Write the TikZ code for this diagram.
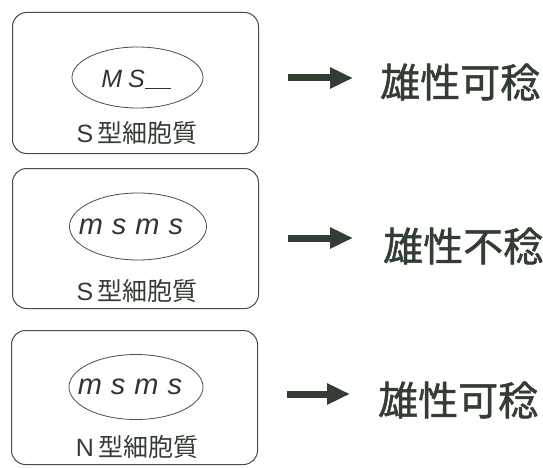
\documentclass[tikz,border=0pt]{standalone}
\usepackage{fontspec}
\setmainfont{Liberation Sans}
\newfontfamily\cjk[FakeBold=1.2]{Noto Sans CJK JP}
\newfontfamily\cjklabel{Noto Sans CJK JP}
\usetikzlibrary{shapes.geometric,arrows.meta}
\definecolor{ink}{HTML}{333D33}
\definecolor{boxline}{HTML}{4A4A4A}
\tikzset{
  cellbox/.style={draw=boxline, line width=1pt, rounded corners=14pt, minimum width=246pt, anchor=north west},
  nucleus/.style={draw=boxline, line width=0.8pt, ellipse, inner sep=0pt},
  gene/.style={font=\fontsize{29}{29}\selectfont\itshape, text=ink!90!black, inner sep=0pt},
  celllabel/.style={font=\fontsize{25}{25}\selectfont, text=ink},
  result/.style={font=\cjk\fontsize{40}{40}\selectfont, text=ink, anchor=west, inner sep=0pt},
  bigarrow/.style={draw=ink, line width=7pt, -{Triangle[length=23pt,width=20pt]}}
}
\begin{document}
\begin{tikzpicture}[x=1pt,y=-1pt]
\useasboundingbox (0,0) rectangle (543,468);
% boxes
\node[cellbox, minimum height=141pt] (b1) at (12,12) {};
\node[cellbox, minimum height=140pt] (b2) at (12,168) {};
\node[cellbox, minimum height=134pt] (b3) at (11,330) {};
% nuclei
\node[nucleus, minimum width=131pt, minimum height=61pt] (e1) at (137.5,77.5) {};
\node[nucleus, minimum width=137pt, minimum height=67pt] (e2) at (138,226.5) {};
\node[nucleus, minimum width=134pt, minimum height=65pt] (e3) at (136,387) {};
\node[gene, font=\fontsize{25}{25}\selectfont\itshape] (g1) at (136,79) {M\hspace{6pt}S\rule[-1pt]{26pt}{0.6pt}};
\node[gene] (g2) at (131,227) {m\hspace{9pt}s\hspace{9pt}m\hspace{9pt}s};
\node[gene] (g3) at (130,387) {m\hspace{9pt}s\hspace{9pt}m\hspace{9pt}s};
% labels
\node[celllabel] (l1) at (137,133) {S\hspace{4pt}{\cjklabel 型細胞質}};
\node[celllabel] (l2) at (137,291) {S\hspace{4pt}{\cjklabel 型細胞質}};
\node[celllabel] (l3) at (137,447) {N\hspace{4pt}{\cjklabel 型細胞質}};
% results
\node[result] (r1) at (380,82) {雄性可稔};
\node[result] (r2) at (383,246) {雄性不稔};
\node[result] (r3) at (378,400) {雄性可稔};
% arrows
\coordinate (a1) at (288,78);
\coordinate (a2) at (288,238);
\coordinate (a3) at (287,394);
\draw[bigarrow] (a1) -- ++(65,0);
\draw[bigarrow] (a2) -- ++(65,0);
\draw[bigarrow] (a3) -- ++(63,0);
\end{tikzpicture}
\end{document}
